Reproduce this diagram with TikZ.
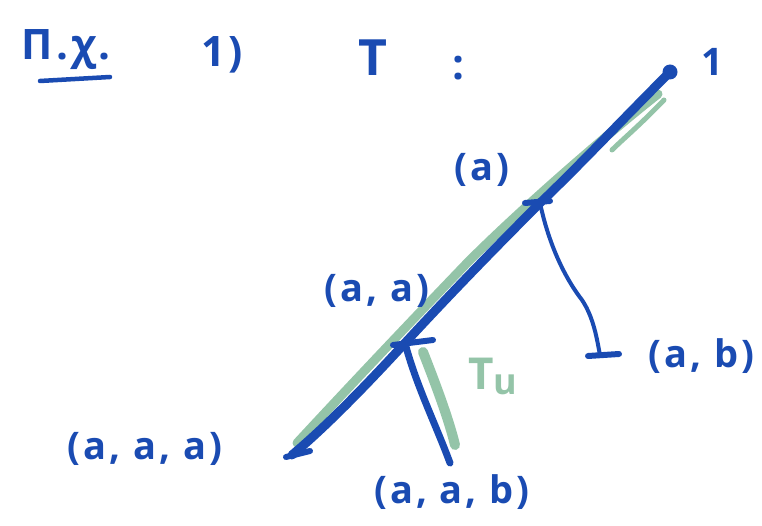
\documentclass[tikz,border=0pt]{standalone}
\usepackage{fontspec}
\usetikzlibrary{calc}
\setmainfont{Open Sans}[LetterSpace=8]
\definecolor{pen}{HTML}{1A4BB2}
\definecolor{hl}{HTML}{94C4A8}
\begin{document}
\begin{tikzpicture}[x=1pt,y=-1pt,
  lbl/.style={text=pen,font=\fontsize{38}{40}\selectfont\bfseries,inner sep=0pt},
  thick edge/.style={draw=pen,line width=9pt,line cap=round,line join=round},
  thin edge/.style={draw=pen,line width=4pt,line cap=round},
  glow/.style={draw=hl,line width=9pt,line cap=round},
  bar/.style={draw=pen,line width=6pt,line cap=round}]
\useasboundingbox (0,0) rectangle (762,526);
% tree points
\coordinate (root) at (670,72);
\coordinate (na) at (540,203);
\coordinate (naa) at (405,343);
\coordinate (naaa) at (292,455);
\coordinate (naab) at (450,463);
\coordinate (nab) at (600,355);
% green highlight (subtree T_u path)
\draw[glow] (658,94) .. controls (600,140) and (520,210) .. (468,262)
  .. controls (420,312) and (360,375) .. (297,443);
\draw[glow,line width=5pt] (664,100) .. controls (640,125) and (622,140) .. (612,150);
\draw[glow,line width=10pt] (423,352) .. controls (436,385) and (449,420) .. (455,445);
% main branches
\draw[thick edge] (root) .. controls (620,122) and (575,170) .. (na)
  .. controls (500,243) and (452,292) .. (naa)
  .. controls (360,392) and (322,430) .. (naaa);
\draw[thick edge,line width=7pt] (naa) .. controls (416,385) and (436,425) .. (naab);
\draw[thin edge] (na) .. controls (550,250) and (568,282) .. (582,300)
  .. controls (594,318) and (597,340) .. (nab);
% end marks
\fill[pen] (root) circle (7.5);
\draw[bar] ($(na)+(-15,0)$) -- ($(na)+(10,-2)$);
\draw[bar] ($(naa)+(-12,2)$) -- ($(naa)+(28,-3)$);
\draw[bar] ($(naaa)+(-6,2)$) -- ($(naaa)+(18,-4)$);
\draw[bar] ($(nab)+(-12,1)$) -- ($(nab)+(19,-1)$);
% labels
\node[lbl] (l1) at (712,62) {1};
\node[lbl] (la) at (482,170) {(a)};
\node[lbl] (laa) at (377,291) {(a, a)};
\node[lbl,anchor=west] (lab) at (648,356) {(a, b)};
\node[lbl] (laaa) at (145,449) {(a, a, a)};
\node[lbl] (laab) at (452,492) {(a, a, b)};
\node[lbl,text=hl,font=\fontsize{44}{46}\selectfont\bfseries] (tu) at (493,376) {T\raisebox{-5pt}{\fontsize{36}{38}\selectfont u}};
% title
\node[lbl,font=\fontsize{42}{44}\selectfont\bfseries] (title) at (66,50) {Π.χ.};
\draw[bar,line width=4.5pt] (40,81) -- (110,77);
\node[lbl,font=\fontsize{42}{44}\selectfont\bfseries] (one) at (222,55) {1)};
\node[lbl,font=\fontsize{50}{52}\selectfont\bfseries] (T) at (373,58) {T};
\node[lbl,font=\fontsize{42}{44}\selectfont\bfseries] (colon) at (458,68) {:};
\end{tikzpicture}
\end{document}
